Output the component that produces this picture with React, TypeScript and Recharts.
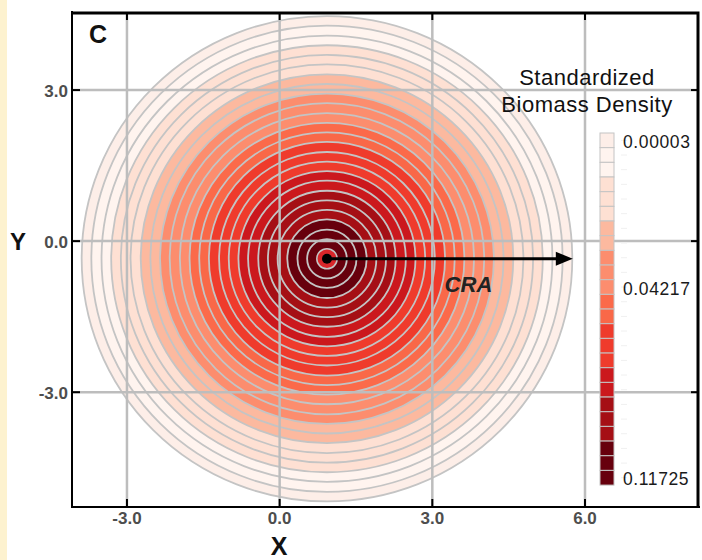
import React from "react";
import { ScatterChart, XAxis, YAxis, ReferenceLine, ReferenceDot } from "recharts";

// axes
const xTicks = [-3, 0, 3, 6];
const yTicks = [3, 0, -3];
const X_DOMAIN: [number, number] = [-4.08, 8.24];
const Y_DOMAIN: [number, number] = [-5.28, 4.55];

// concentric density contours around the CRA centre (outer -> inner)
const craCenter = { x: 0.93, y: -0.35 };
const ringRadii = [
  4.82, 4.63, 4.43, 4.24, 4.05, 3.86, 3.66, 3.47, 3.28, 3.09, 2.89, 2.7,
  2.51, 2.32, 2.12, 1.93, 1.74, 1.55, 1.35, 1.16, 0.97, 0.78, 0.58, 0.39,
];
const ringColors = [
  "#fdeee8", "#fff4ef", "#fff4ef", "#fee0d3", "#fee0d3", "#fee0d3",
  "#fcb99f", "#fcb99f", "#fc8d6e", "#fc8d6e", "#fc8d6e", "#fb6a4a",
  "#f96848", "#ef3b2c", "#ef3b2c", "#ef3b2c", "#cb181d", "#cb181d",
  "#a50f15", "#a50f15", "#a50f15", "#67000d", "#67000d", "#67000d",
];
const coreRadius = 0.2;
const coreColor = "#d9262a";
const arrowTipX = 5.76;
const craLabel = { x: 3.71, y: -0.85, text: "CRA" };

// colorbar labels: which level they sit next to
const levelLabels = [
  { index: 0, label: "0.00003" },
  { index: 10, label: "0.04217" },
  { index: 23, label: "0.11725" },
];

const W = 702;
const H = 560;
const MARGIN = { top: 12, right: 3, left: 0, bottom: 0 };
const X_AXIS_H = 53;
const Y_AXIS_W = 72;
const PLOT_X = MARGIN.left + Y_AXIS_W;
const PLOT_Y = MARGIN.top;
const PLOT_W = W - MARGIN.left - MARGIN.right - Y_AXIS_W;
const PLOT_H = H - MARGIN.top - MARGIN.bottom - X_AXIS_H;
const SX = PLOT_W / (X_DOMAIN[1] - X_DOMAIN[0]);
const SY = PLOT_H / (Y_DOMAIN[1] - Y_DOMAIN[0]);
const TICK_LEN = 8; // px, inner ticks

const FONT = "'Liberation Sans', Arial, sans-serif";
const tickStyle = { fontFamily: FONT, fontSize: 17, fontWeight: 700, fill: "#4d4d4d" };
const frame = { stroke: "#000", strokeWidth: 2, strokeLinecap: "square" as const };

// bottom labels + inner ticks on bottom and top edges
const BottomTick = (p: any) => (
  <g>
    <line x1={p.x} x2={p.x} y1={p.y} y2={p.y - TICK_LEN} stroke="#000" strokeWidth={2} />
    <line x1={p.x} x2={p.x} y1={p.y - PLOT_H} y2={p.y - PLOT_H + TICK_LEN} stroke="#000" strokeWidth={2} />
    <text x={p.x} y={p.y + 17} textAnchor="middle" style={tickStyle}>
      {Number(p.payload.value).toFixed(1)}
    </text>
  </g>
);
// left labels + inner ticks on left and right edges
const LeftTick = (p: any) => (
  <g>
    <line x1={p.x} x2={p.x + TICK_LEN} y1={p.y} y2={p.y} stroke="#000" strokeWidth={2} />
    <line x1={p.x + PLOT_W} x2={p.x + PLOT_W - TICK_LEN} y1={p.y} y2={p.y} stroke="#000" strokeWidth={2} />
    <text x={p.x - 4} y={p.y + 7} textAnchor="end" style={tickStyle}>
      {Number(p.payload.value).toFixed(1)}
    </text>
  </g>
);

function ColorBar() {
  const top = 133;
  const cellH = 14.67;
  return (
    <g>
      {ringColors.map((c, i) => (
        <g key={i}>
          <rect x={600} y={top + i * cellH} width={14} height={cellH} fill={c} stroke="#c4c4c4" strokeWidth={1} />
          <line x1={621} x2={627} y1={top + (i + 0.5) * cellH} y2={top + (i + 0.5) * cellH} stroke="#f0f0f0" strokeWidth={1} />
        </g>
      ))}
      {levelLabels.map((l) => (
        <text key={l.label} x={623} y={top + (l.index + 0.5) * cellH + 7.5} fontSize={17.5} letterSpacing={0.6} fill="#1a1a1a" fontFamily={FONT}>
          {l.label}
        </text>
      ))}
    </g>
  );
}

export default function App() {
  return (
    <div style={{ position: "absolute", left: 0, top: 0, width: W, height: H, background: "#fff", fontFamily: FONT }}>
      <div style={{ position: "absolute", left: 0, top: 0, width: 7, height: H, background: "#fdf2cf" }} />
      <ScatterChart width={W} height={H} margin={MARGIN}>
        {ringRadii.map((r, i) => (
          <ReferenceDot
            key={`ring-${i}`}
            x={craCenter.x}
            y={craCenter.y}
            r={r * SX}
            zIndex={100}
            shape={(p: any) => (
              <ellipse cx={p.cx} cy={p.cy} rx={r * SX} ry={r * SY} fill={ringColors[i]} stroke="#c4c4c4" strokeWidth={1.8} />
            )}
          />
        ))}
        <ReferenceDot
          x={craCenter.x}
          y={craCenter.y}
          r={coreRadius * SX}
          zIndex={100}
          shape={(p: any) => (
            <ellipse cx={p.cx} cy={p.cy} rx={coreRadius * SX} ry={coreRadius * SY} fill={coreColor} stroke="#c4c4c4" strokeWidth={1.5} />
          )}
        />

        {xTicks.map((t) => (
          <ReferenceLine key={`gx${t}`} x={t} stroke="#bdbdbd" strokeWidth={2.5} zIndex={200} />
        ))}
        {yTicks.map((t) => (
          <ReferenceLine key={`gy${t}`} y={t} stroke="#bdbdbd" strokeWidth={2.5} zIndex={200} />
        ))}

        <ReferenceLine
          segment={[
            { x: craCenter.x, y: craCenter.y },
            { x: arrowTipX - 0.25, y: craCenter.y },
          ]}
          stroke="#000"
          strokeWidth={3}
          zIndex={300}
        />
        <ReferenceDot
          x={arrowTipX}
          y={craCenter.y}
          r={8}
          zIndex={300}
          shape={(p: any) => (
            <polygon points={`${p.cx},${p.cy} ${p.cx - 17},${p.cy - 7} ${p.cx - 17},${p.cy + 7}`} fill="#000" />
          )}
        />
        <ReferenceDot x={craCenter.x} y={craCenter.y} r={5} fill="#000" stroke="none" zIndex={300} />
        <ReferenceDot
          x={craLabel.x}
          y={craLabel.y}
          r={1}
          zIndex={300}
          shape={(p: any) => (
            <text x={p.cx} y={p.cy + 8} textAnchor="middle" fontFamily={FONT} fontSize={22} fontWeight={700} fontStyle="italic" fill="#222">
              {craLabel.text}
            </text>
          )}
        />

        <XAxis
          type="number"
          dataKey="x"
          domain={X_DOMAIN}
          ticks={xTicks}
          allowDataOverflow
          height={X_AXIS_H}
          tickSize={0}
          tickMargin={0}
          tickLine={false}
          tick={BottomTick}
          axisLine={frame}
        />
        <YAxis
          type="number"
          dataKey="y"
          domain={Y_DOMAIN}
          ticks={yTicks}
          allowDataOverflow
          width={Y_AXIS_W}
          tickSize={0}
          tickMargin={0}
          tickLine={false}
          tick={LeftTick}
          axisLine={frame}
        />
      </ScatterChart>

      <svg width={W} height={H} style={{ position: "absolute", left: 0, top: 0, pointerEvents: "none" }}>
        {/* plot frame: top and right edges */}
        <path
          d={`M${PLOT_X - 1},${PLOT_Y + 1} H${PLOT_X + PLOT_W - 1} V${PLOT_Y + PLOT_H}`}
          fill="none"
          stroke="#000"
          strokeWidth={3}
        />
        <text x={89} y={43} fontFamily={FONT} fontSize={25} fontWeight={700} fill="#111">C</text>
        <text x={18} y={250} textAnchor="middle" fontFamily={FONT} fontSize={24} fontWeight={700} fill="#111">Y</text>
        <text x={279} y={555} textAnchor="middle" fontFamily={FONT} fontSize={25} fontWeight={700} fill="#111">X</text>
        <text x={587} y={85} textAnchor="middle" fontFamily={FONT} fontSize={22} letterSpacing={0.5} fill="#111">Standardized</text>
        <text x={587} y={112} textAnchor="middle" fontFamily={FONT} fontSize={22} letterSpacing={0.5} fill="#111">Biomass Density</text>
        <ColorBar />
      </svg>
    </div>
  );
}
